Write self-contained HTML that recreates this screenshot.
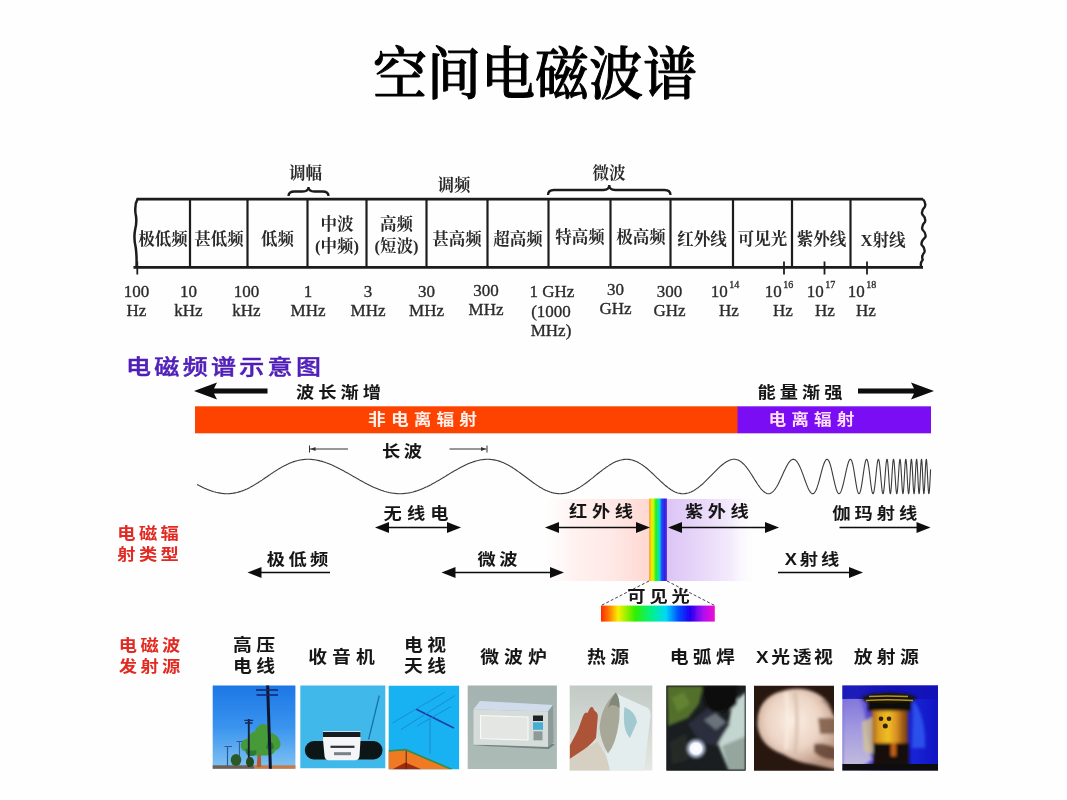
<!DOCTYPE html>
<html lang="zh-CN">
<head>
<meta charset="utf-8">
<title>空间电磁波谱</title>
<style>
html,body{margin:0;padding:0;background:#fefefe;}
body{width:1067px;height:800px;overflow:hidden;position:relative;font-family:"Liberation Sans","Noto Sans CJK SC",sans-serif;}
svg{position:absolute;left:0;top:0;display:block;}
.ser{font-family:"Liberation Serif","Noto Serif CJK SC",serif;}
.san{font-family:"Liberation Sans","Noto Sans CJK SC",sans-serif;}
.cell{font-size:16.5px;fill:#2a2a2a;text-anchor:middle;font-weight:700;}
.frq{font-size:17px;fill:#2c2c2c;text-anchor:middle;stroke:#2c2c2c;stroke-width:0.35px;}
.lab{font-size:17px;fill:#151515;text-anchor:middle;font-weight:700;letter-spacing:3.5px;}
.red{font-size:16.5px;fill:#e3321f;font-weight:700;letter-spacing:3.5px;}
.src{font-size:17.5px;fill:#151515;text-anchor:middle;font-weight:700;letter-spacing:3.5px;}
</style>
</head>
<body>
<svg width="1067" height="800" viewBox="0 0 1067 800">
<rect width="1067" height="800" fill="#fefefe"/>
<defs><filter id="b0" x="-2%" y="-5%" width="104%" height="110%"><feGaussianBlur stdDeviation="0.45"/></filter></defs>
<g id="title" class="ser" filter="url(#b0)">
<text transform="translate(535,0) scale(1,1.05)" x="0" y="89.5" font-size="54" font-weight="500" stroke="#000" stroke-width="1" stroke-linejoin="round" text-anchor="middle" fill="#000">空间电磁波谱</text>
</g>
<g id="table" class="ser" filter="url(#b0)">
<path d="M136.5 199.2 H923 M133.5 267.4 H923" stroke="#1c1c1c" stroke-width="2.8" fill="none"/>
<path d="M137.5 199.2 q-3 5 -2 14 q1.8 8 -0.3 16 q-1.8 9 0.5 18 q1.2 8 0.8 20.19999999999999" stroke="#1c1c1c" stroke-width="2.5" fill="none"/>
<path d="M923 199.2 Q926.4 203.0 924.8 206.8 Q921.0 210.6 922.3 214.4 Q926.1 218.1 925.0 221.9 Q921.2 225.7 922.4 229.5 Q926.4 233.3 925.4 237.1 Q921.0 240.9 921.5 244.7 Q925.5 248.5 924.4 252.2 Q921.1 256.0 922.7 259.8 Q919.6 263.6 921.5 267.4" stroke="#1c1c1c" stroke-width="2.4" fill="none"/>
<line x1="190" y1="199.2" x2="190" y2="267.4" stroke="#1c1c1c" stroke-width="2.2"/>
<line x1="247.5" y1="199.2" x2="247.5" y2="267.4" stroke="#1c1c1c" stroke-width="2.2"/>
<line x1="307.5" y1="199.2" x2="307.5" y2="267.4" stroke="#1c1c1c" stroke-width="2.2"/>
<line x1="366.5" y1="199.2" x2="366.5" y2="267.4" stroke="#1c1c1c" stroke-width="2.2"/>
<line x1="426.5" y1="199.2" x2="426.5" y2="267.4" stroke="#1c1c1c" stroke-width="2.2"/>
<line x1="487.5" y1="199.2" x2="487.5" y2="267.4" stroke="#1c1c1c" stroke-width="2.2"/>
<line x1="548.5" y1="199.2" x2="548.5" y2="267.4" stroke="#1c1c1c" stroke-width="2.2"/>
<line x1="610.5" y1="199.2" x2="610.5" y2="267.4" stroke="#1c1c1c" stroke-width="2.2"/>
<line x1="670.5" y1="199.2" x2="670.5" y2="267.4" stroke="#1c1c1c" stroke-width="2.2"/>
<line x1="733" y1="199.2" x2="733" y2="267.4" stroke="#1c1c1c" stroke-width="2.2"/>
<line x1="792" y1="199.2" x2="792" y2="267.4" stroke="#1c1c1c" stroke-width="2.2"/>
<line x1="850.5" y1="199.2" x2="850.5" y2="267.4" stroke="#1c1c1c" stroke-width="2.2"/>
<text class="cell" x="163" y="244.5">极低频</text>
<text class="cell" x="219" y="244.5">甚低频</text>
<text class="cell" x="277.5" y="244.5">低频</text>
<text class="cell" x="457" y="244.5">甚高频</text>
<text class="cell" x="518" y="244.5">超高频</text>
<text class="cell" x="580" y="243.0">特高频</text>
<text class="cell" x="641" y="243.0">极高频</text>
<text class="cell" x="702" y="244.5">红外线</text>
<text class="cell" x="762.5" y="244.5">可见光</text>
<text class="cell" x="821.5" y="244.5">紫外线</text>
<text class="cell" x="883" y="246.0">X射线</text>
<text class="cell" x="337" y="229.5">中波</text>
<text class="cell" x="337" y="251.5">(中频)</text>
<text class="cell" x="396.5" y="229.5">高频</text>
<text class="cell" x="396.5" y="251.5">(短波)</text>
<text class="cell" x="305.5" y="178.5" font-size="16">调幅</text>
<text class="cell" x="454" y="191" font-size="16">调频</text>
<text class="cell" x="609" y="178.5" font-size="16">微波</text>
<path d="M288.5 196 q0 -4.5 6 -4.5 H302.5 q6 0 6 -4.5 q0 4.5 6 4.5 H322.5 q6 0 6 4.5" stroke="#1c1c1c" stroke-width="2.3" fill="none"/>
<path d="M548 195 q0 -5.0 6 -5.0 H603.25 q6 0 6 -5.0 q0 5.0 6 5.0 H664.5 q6 0 6 5.0" stroke="#1c1c1c" stroke-width="2.3" fill="none"/>
<line x1="137.3" y1="261.5" x2="137.3" y2="274.5" stroke="#1c1c1c" stroke-width="1.8"/>
<line x1="784" y1="261.5" x2="784" y2="274.5" stroke="#1c1c1c" stroke-width="1.8"/>
<line x1="824.5" y1="261.5" x2="824.5" y2="274.5" stroke="#1c1c1c" stroke-width="1.8"/>
<line x1="867" y1="261.5" x2="867" y2="274.5" stroke="#1c1c1c" stroke-width="1.8"/>
<text class="frq" x="136.5" y="297">100</text><text class="frq" x="136.5" y="316">Hz</text>
<text class="frq" x="188.5" y="297">10</text><text class="frq" x="188.5" y="316">kHz</text>
<text class="frq" x="246.5" y="297">100</text><text class="frq" x="246.5" y="316">kHz</text>
<text class="frq" x="308" y="297">1</text><text class="frq" x="308" y="316">MHz</text>
<text class="frq" x="368" y="297">3</text><text class="frq" x="368" y="316">MHz</text>
<text class="frq" x="426.5" y="297">30</text><text class="frq" x="426.5" y="316">MHz</text>
<text class="frq" x="486" y="295.5">300</text><text class="frq" x="486" y="314.5">MHz</text>
<text class="frq" x="615.5" y="295">30</text><text class="frq" x="615.5" y="313.5">GHz</text>
<text class="frq" x="669.5" y="297">300</text><text class="frq" x="669.5" y="316">GHz</text>
<text class="frq" x="552" y="297">1 GHz</text><text class="frq" x="551" y="316.5">(1000</text><text class="frq" x="551" y="335.5">MHz)</text>
<text class="frq" x="725" y="297">10<tspan dx="1.5" dy="-9.5" font-size="10">14</tspan></text><text class="frq" x="729" y="316">Hz</text>
<text class="frq" x="779" y="297">10<tspan dx="1.5" dy="-9.5" font-size="10">16</tspan></text><text class="frq" x="783" y="316">Hz</text>
<text class="frq" x="821" y="297">10<tspan dx="1.5" dy="-9.5" font-size="10">17</tspan></text><text class="frq" x="825" y="316">Hz</text>
<text class="frq" x="862" y="297">10<tspan dx="1.5" dy="-9.5" font-size="10">18</tspan></text><text class="frq" x="866" y="316">Hz</text>
</g>
<defs>
<linearGradient id="gIR" x1="0" x2="1" y1="0" y2="0"><stop offset="0" stop-color="#fff5f3" stop-opacity="0"/><stop offset="0.25" stop-color="#fff2f0"/><stop offset="0.65" stop-color="#ffe8e5"/><stop offset="1" stop-color="#ffd7d1"/></linearGradient>
<linearGradient id="gUV" x1="0" x2="1" y1="0" y2="0"><stop offset="0" stop-color="#dcc4f6"/><stop offset="0.4" stop-color="#e8d8f9"/><stop offset="0.75" stop-color="#f4ecfc"/><stop offset="1" stop-color="#fcfafe" stop-opacity="0"/></linearGradient>
<linearGradient id="gVis" x1="0" x2="1" y1="0" y2="0"><stop offset="0" stop-color="#ffc478"/><stop offset="0.05" stop-color="#f0a020"/><stop offset="0.12" stop-color="#f6e600"/><stop offset="0.26" stop-color="#c0f810"/><stop offset="0.38" stop-color="#20f020"/><stop offset="0.52" stop-color="#10e890"/><stop offset="0.6" stop-color="#10c8e8"/><stop offset="0.7" stop-color="#2050f8"/><stop offset="0.86" stop-color="#2a20e6"/><stop offset="1" stop-color="#7434e0"/></linearGradient>
<linearGradient id="gBow" x1="0" x2="1" y1="0" y2="0"><stop offset="0" stop-color="#ff2a00"/><stop offset="0.07" stop-color="#ff7a00"/><stop offset="0.15" stop-color="#f8f000"/><stop offset="0.3" stop-color="#30f000"/><stop offset="0.45" stop-color="#00f090"/><stop offset="0.57" stop-color="#00d8f8"/><stop offset="0.68" stop-color="#0050ff"/><stop offset="0.78" stop-color="#2000f0"/><stop offset="0.9" stop-color="#b010f0"/><stop offset="1" stop-color="#f010d0"/></linearGradient>
</defs>
<g id="mid" class="san" filter="url(#b0)">
<text transform="translate(126,374) scale(1.19,1)" x="0" y="0" font-size="21" font-weight="500" letter-spacing="2.8" fill="#5020b8" text-anchor="start" stroke="#5020b8" stroke-width="0.45">电磁频谱示意图</text>
<path d="M194 391 L217 382.5 L214 388.5 H267.5 V393.5 H214 L217 399.5 Z" fill="#0a0a0a"/>
<path d="M934 391 L911 382.5 L914 388.5 H858 V393.5 H914 L911 399.5 Z" fill="#0a0a0a"/>
<text transform="translate(338.5,397.5) scale(1.14,1)" x="1.75" y="0" font-size="16" font-weight="700" letter-spacing="3.5" fill="#151515" text-anchor="middle">波长渐增</text>
<text transform="translate(800,397.5) scale(1.14,1)" x="1.75" y="0" font-size="16" font-weight="700" letter-spacing="3.5" fill="#151515" text-anchor="middle">能量渐强</text>
<rect x="195" y="406.3" width="543" height="27" fill="#fe4304"/>
<rect x="737.5" y="406.3" width="193.5" height="27" fill="#7a0cf4"/>
<text transform="translate(422.5,425.3) scale(1.14,1)" x="2.25" y="0" font-size="15.5" font-weight="700" letter-spacing="4.5" fill="#fff2ee" text-anchor="middle">非电离辐射</text>
<text transform="translate(811.5,425.3) scale(1.14,1)" x="2.25" y="0" font-size="15.5" font-weight="700" letter-spacing="4.5" fill="#ffe0fb" text-anchor="middle">电离辐射</text>
<text transform="translate(402,457) scale(1.14,1)" x="1.5" y="0" font-size="16" font-weight="700" letter-spacing="3" fill="#151515" text-anchor="middle">长波</text>
<path d="M310 449 H348 M449.5 449 H486.5 M309.5 445.5 V452.5 M487 445.5 V452.5" stroke="#333" stroke-width="1" fill="none"/>
<path d="M310.5 449 l5 -2 v4 z M486 449 l-5 -2 v4 z" fill="#333"/>
<path d="M197.0 484.4 L198.0 484.9 L199.0 485.5 L200.0 486.0 L201.0 486.5 L202.0 487.0 L203.0 487.5 L204.0 488.0 L205.0 488.4 L206.0 488.8 L207.0 489.3 L208.0 489.7 L209.0 490.1 L210.0 490.4 L211.0 490.8 L212.0 491.1 L213.0 491.5 L214.0 491.8 L215.0 492.0 L216.0 492.3 L217.0 492.5 L218.0 492.8 L219.0 492.9 L220.0 493.1 L221.0 493.3 L222.0 493.4 L223.0 493.5 L224.0 493.6 L225.0 493.7 L226.0 493.7 L227.0 493.7 L228.0 493.7 L229.0 493.7 L230.0 493.6 L231.0 493.5 L232.0 493.4 L233.0 493.3 L234.0 493.1 L235.0 492.9 L236.0 492.7 L237.0 492.5 L238.0 492.2 L239.0 491.9 L240.0 491.6 L241.0 491.3 L242.0 490.9 L243.0 490.6 L244.0 490.2 L245.0 489.8 L246.0 489.3 L247.0 488.9 L248.0 488.4 L249.0 487.9 L250.0 487.4 L251.0 486.8 L252.0 486.3 L253.0 485.7 L254.0 485.1 L255.0 484.5 L256.0 483.9 L257.0 483.3 L258.0 482.7 L259.0 482.0 L260.0 481.4 L261.0 480.7 L262.0 480.1 L263.0 479.4 L264.0 478.7 L265.0 478.0 L266.0 477.3 L267.0 476.7 L268.0 476.0 L269.0 475.3 L270.0 474.6 L271.0 473.9 L272.0 473.3 L273.0 472.6 L274.0 471.9 L275.0 471.3 L276.0 470.6 L277.0 470.0 L278.0 469.4 L279.0 468.8 L280.0 468.2 L281.0 467.6 L282.0 467.0 L283.0 466.5 L284.0 465.9 L285.0 465.4 L286.0 464.9 L287.0 464.4 L288.0 464.0 L289.0 463.5 L290.0 463.1 L291.0 462.7 L292.0 462.3 L293.0 461.9 L294.0 461.6 L295.0 461.3 L296.0 461.0 L297.0 460.7 L298.0 460.5 L299.0 460.2 L300.0 460.0 L301.0 459.9 L302.0 459.7 L303.0 459.6 L304.0 459.5 L305.0 459.4 L306.0 459.3 L307.0 459.3 L308.0 459.3 L309.0 459.3 L310.0 459.3 L311.0 459.4 L312.0 459.5 L313.0 459.6 L314.0 459.7 L315.0 459.8 L316.0 460.0 L317.0 460.2 L318.0 460.4 L319.0 460.6 L320.0 460.9 L321.0 461.1 L322.0 461.4 L323.0 461.7 L324.0 462.0 L325.0 462.3 L326.0 462.7 L327.0 463.0 L328.0 463.4 L329.0 463.8 L330.0 464.2 L331.0 464.6 L332.0 465.1 L333.0 465.5 L334.0 466.0 L335.0 466.5 L336.0 466.9 L337.0 467.4 L338.0 467.9 L339.0 468.4 L340.0 469.0 L341.0 469.5 L342.0 470.0 L343.0 470.6 L344.0 471.1 L345.0 471.7 L346.0 472.2 L347.0 472.8 L348.0 473.3 L349.0 473.9 L350.0 474.5 L351.0 475.0 L352.0 475.6 L353.0 476.2 L354.0 476.8 L355.0 477.3 L356.0 477.9 L357.0 478.5 L358.0 479.1 L359.0 479.6 L360.0 480.2 L361.0 480.7 L362.0 481.3 L363.0 481.8 L364.0 482.4 L365.0 482.9 L366.0 483.4 L367.0 484.0 L368.0 484.5 L369.0 485.0 L370.0 485.5 L371.0 486.0 L372.0 486.4 L373.0 486.9 L374.0 487.4 L375.0 487.8 L376.0 488.2 L377.0 488.6 L378.0 489.0 L379.0 489.4 L380.0 489.8 L381.0 490.2 L382.0 490.5 L383.0 490.8 L384.0 491.2 L385.0 491.5 L386.0 491.7 L387.0 492.0 L388.0 492.2 L389.0 492.5 L390.0 492.7 L391.0 492.9 L392.0 493.0 L393.0 493.2 L394.0 493.3 L395.0 493.4 L396.0 493.5 L397.0 493.6 L398.0 493.7 L399.0 493.7 L400.0 493.7 L401.0 493.7 L402.0 493.7 L403.0 493.6 L404.0 493.5 L405.0 493.4 L406.0 493.3 L407.0 493.2 L408.0 493.0 L409.0 492.9 L410.0 492.7 L411.0 492.5 L412.0 492.2 L413.0 492.0 L414.0 491.7 L415.0 491.4 L416.0 491.1 L417.0 490.8 L418.0 490.4 L419.0 490.1 L420.0 489.7 L421.0 489.3 L422.0 488.9 L423.0 488.5 L424.0 488.1 L425.0 487.6 L426.0 487.1 L427.0 486.7 L428.0 486.2 L429.0 485.7 L430.0 485.2 L431.0 484.7 L432.0 484.1 L433.0 483.6 L434.0 483.0 L435.0 482.5 L436.0 481.9 L437.0 481.3 L438.0 480.8 L439.0 480.2 L440.0 479.6 L441.0 479.0 L442.0 478.4 L443.0 477.8 L444.0 477.2 L445.0 476.6 L446.0 476.0 L447.0 475.3 L448.0 474.7 L449.0 474.1 L450.0 473.5 L451.0 472.9 L452.0 472.3 L453.0 471.7 L454.0 471.1 L455.0 470.6 L456.0 470.0 L457.0 469.4 L458.0 468.9 L459.0 468.3 L460.0 467.8 L461.0 467.2 L462.0 466.7 L463.0 466.2 L464.0 465.7 L465.0 465.2 L466.0 464.7 L467.0 464.3 L468.0 463.8 L469.0 463.4 L470.0 463.0 L471.0 462.6 L472.0 462.3 L473.0 461.9 L474.0 461.6 L475.0 461.3 L476.0 461.0 L477.0 460.7 L478.0 460.5 L479.0 460.2 L480.0 460.0 L481.0 459.8 L482.0 459.7 L483.0 459.6 L484.0 459.5 L485.0 459.4 L486.0 459.3 L487.0 459.3 L488.0 459.3 L489.0 459.3 L490.0 459.4 L491.0 459.5 L492.0 459.6 L493.0 459.7 L494.0 459.9 L495.0 460.1 L496.0 460.3 L497.0 460.5 L498.0 460.8 L499.0 461.1 L500.0 461.4 L501.0 461.8 L502.0 462.2 L503.0 462.6 L504.0 463.0 L505.0 463.5 L506.0 464.0 L507.0 464.5 L508.0 465.0 L509.0 465.6 L510.0 466.1 L511.0 466.7 L512.0 467.3 L513.0 468.0 L514.0 468.6 L515.0 469.3 L516.0 470.0 L517.0 470.7 L518.0 471.4 L519.0 472.1 L520.0 472.8 L521.0 473.5 L522.0 474.3 L523.0 475.0 L524.0 475.8 L525.0 476.5 L526.0 477.3 L527.0 478.0 L528.0 478.8 L529.0 479.5 L530.0 480.3 L531.0 481.0 L532.0 481.8 L533.0 482.5 L534.0 483.2 L535.0 483.9 L536.0 484.6 L537.0 485.3 L538.0 485.9 L539.0 486.5 L540.0 487.2 L541.0 487.8 L542.0 488.3 L543.0 488.9 L544.0 489.4 L545.0 489.9 L546.0 490.4 L547.0 490.8 L548.0 491.2 L549.0 491.6 L550.0 492.0 L551.0 492.3 L552.0 492.6 L553.0 492.8 L554.0 493.1 L555.0 493.3 L556.0 493.4 L557.0 493.5 L558.0 493.6 L559.0 493.7 L560.0 493.7 L561.0 493.7 L562.0 493.6 L563.0 493.5 L564.0 493.4 L565.0 493.3 L566.0 493.1 L567.0 492.8 L568.0 492.6 L569.0 492.3 L570.0 492.0 L571.0 491.6 L572.0 491.2 L573.0 490.8 L574.0 490.4 L575.0 489.9 L576.0 489.4 L577.0 488.8 L578.0 488.3 L579.0 487.7 L580.0 487.1 L581.0 486.4 L582.0 485.8 L583.0 485.1 L584.0 484.4 L585.0 483.7 L586.0 483.0 L587.0 482.2 L588.0 481.5 L589.0 480.7 L590.0 479.9 L591.0 479.1 L592.0 478.4 L593.0 477.6 L594.0 476.7 L595.0 475.9 L596.0 475.1 L597.0 474.3 L598.0 473.5 L599.0 472.7 L600.0 471.9 L601.0 471.2 L602.0 470.4 L603.0 469.6 L604.0 468.9 L605.0 468.2 L606.0 467.4 L607.0 466.7 L608.0 466.1 L609.0 465.4 L610.0 464.8 L611.0 464.2 L612.0 463.6 L613.0 463.1 L614.0 462.6 L615.0 462.1 L616.0 461.6 L617.0 461.2 L618.0 460.9 L619.0 460.5 L620.0 460.2 L621.0 460.0 L622.0 459.7 L623.0 459.6 L624.0 459.4 L625.0 459.4 L626.0 459.3 L627.0 459.3 L628.0 459.4 L629.0 459.4 L630.0 459.6 L631.0 459.8 L632.0 460.0 L633.0 460.3 L634.0 460.6 L635.0 461.0 L636.0 461.4 L637.0 461.8 L638.0 462.3 L639.0 462.9 L640.0 463.4 L641.0 464.1 L642.0 464.7 L643.0 465.4 L644.0 466.2 L645.0 466.9 L646.0 467.7 L647.0 468.5 L648.0 469.4 L649.0 470.3 L650.0 471.2 L651.0 472.1 L652.0 473.0 L653.0 473.9 L654.0 474.9 L655.0 475.9 L656.0 476.8 L657.0 477.8 L658.0 478.7 L659.0 479.7 L660.0 480.7 L661.0 481.6 L662.0 482.5 L663.0 483.4 L664.0 484.3 L665.0 485.2 L666.0 486.0 L667.0 486.8 L668.0 487.6 L669.0 488.3 L670.0 489.0 L671.0 489.7 L672.0 490.3 L673.0 490.9 L674.0 491.4 L675.0 491.9 L676.0 492.3 L677.0 492.7 L678.0 493.0 L679.0 493.2 L680.0 493.4 L681.0 493.6 L682.0 493.7 L683.0 493.7 L684.0 493.7 L685.0 493.6 L686.0 493.4 L687.0 493.2 L688.0 493.0 L689.0 492.7 L690.0 492.3 L691.0 491.9 L692.0 491.4 L693.0 490.9 L694.0 490.4 L695.0 489.8 L696.0 489.1 L697.0 488.4 L698.0 487.7 L699.0 486.9 L700.0 486.1 L701.0 485.3 L702.0 484.5 L703.0 483.6 L704.0 482.6 L705.0 481.7 L706.0 480.7 L707.0 479.7 L708.0 478.7 L709.0 477.7 L710.0 476.7 L711.0 475.7 L712.0 474.7 L713.0 473.6 L714.0 472.6 L715.0 471.6 L716.0 470.6 L717.0 469.6 L718.0 468.6 L719.0 467.6 L720.0 466.7 L721.0 465.8 L722.0 465.0 L723.0 464.2 L724.0 463.4 L725.0 462.7 L726.0 462.0 L727.0 461.4 L728.0 460.9 L729.0 460.4 L730.0 460.0 L731.0 459.7 L732.0 459.5 L733.0 459.3 L734.0 459.3 L735.0 459.3 L736.0 459.5 L737.0 459.7 L738.0 460.1 L739.0 460.6 L740.0 461.1 L741.0 461.8 L742.0 462.6 L743.0 463.5 L744.0 464.4 L745.0 465.5 L746.0 466.7 L747.0 468.0 L748.0 469.3 L749.0 470.7 L750.0 472.2 L751.0 473.7 L752.0 475.3 L753.0 476.9 L754.0 478.5 L755.0 480.1 L756.0 481.6 L757.0 483.2 L758.0 484.7 L759.0 486.1 L760.0 487.5 L761.0 488.8 L762.0 489.9 L763.0 490.9 L764.0 491.8 L765.0 492.5 L766.0 493.1 L767.0 493.5 L768.0 493.7 L769.0 493.7 L770.0 493.5 L771.0 493.1 L772.0 492.4 L773.0 491.6 L774.0 490.5 L775.0 489.3 L776.0 487.8 L777.0 486.2 L778.0 484.4 L779.0 482.4 L780.0 480.3 L781.0 478.2 L782.0 476.0 L783.0 473.8 L784.0 471.6 L785.0 469.4 L786.0 467.4 L787.0 465.5 L788.0 463.8 L789.0 462.3 L790.0 461.1 L791.0 460.2 L792.0 459.6 L793.0 459.3 L794.0 459.4 L795.0 459.8 L796.0 460.6 L797.0 461.7 L798.0 463.2 L799.0 465.0 L800.0 467.1 L801.0 469.4 L802.0 471.9 L803.0 474.6 L804.0 477.4 L805.0 480.2 L806.0 482.9 L807.0 485.5 L808.0 487.9 L809.0 490.0 L810.0 491.6 L811.0 492.9 L812.0 493.6 L813.0 493.7 L814.0 493.2 L815.0 492.0 L816.0 490.2 L817.0 487.7 L818.0 484.7 L819.0 481.3 L820.0 477.5 L821.0 473.7 L822.0 469.9 L823.0 466.4 L824.0 463.5 L825.0 461.2 L826.0 459.8 L827.0 459.3 L828.0 459.8 L829.0 461.3 L830.0 463.8 L831.0 467.2 L832.0 471.3 L833.0 475.8 L834.0 480.3 L835.0 484.6 L836.0 488.4 L837.0 491.3 L838.0 493.1 L839.0 493.7 L840.0 493.1 L840.2 492.8 L840.4 492.5 L840.6 492.2 L840.8 491.8 L841.0 491.3 L841.2 490.9 L841.4 490.4 L841.6 489.8 L841.8 489.2 L842.0 488.6 L842.2 487.9 L842.4 487.2 L842.6 486.5 L842.8 485.8 L843.0 485.0 L843.2 484.2 L843.4 483.4 L843.6 482.6 L843.8 481.7 L844.0 480.8 L844.2 479.9 L844.4 479.0 L844.6 478.1 L844.8 477.2 L845.0 476.3 L845.2 475.4 L845.4 474.4 L845.6 473.5 L845.8 472.6 L846.0 471.7 L846.2 470.8 L846.4 469.9 L846.6 469.0 L846.8 468.2 L847.0 467.4 L847.2 466.5 L847.4 465.8 L847.6 465.0 L847.8 464.3 L848.0 463.6 L848.2 463.0 L848.4 462.4 L848.6 461.8 L848.8 461.3 L849.0 460.9 L849.2 460.5 L849.4 460.1 L849.6 459.8 L849.8 459.6 L850.0 459.4 L850.2 459.3 L850.4 459.3 L850.6 459.3 L850.8 459.4 L851.0 459.6 L851.2 459.9 L851.4 460.2 L851.6 460.6 L851.8 461.1 L852.0 461.6 L852.2 462.3 L852.4 463.0 L852.6 463.7 L852.8 464.6 L853.0 465.5 L853.2 466.4 L853.4 467.5 L853.6 468.5 L853.8 469.7 L854.0 470.8 L854.2 472.0 L854.4 473.3 L854.6 474.5 L854.8 475.8 L855.0 477.1 L855.2 478.4 L855.4 479.7 L855.6 480.9 L855.8 482.2 L856.0 483.4 L856.2 484.6 L856.4 485.7 L856.6 486.8 L856.8 487.8 L857.0 488.8 L857.2 489.7 L857.4 490.5 L857.6 491.2 L857.8 491.9 L858.0 492.4 L858.2 492.9 L858.4 493.2 L858.6 493.5 L858.8 493.6 L859.0 493.7 L859.2 493.6 L859.4 493.5 L859.6 493.2 L859.8 492.9 L860.0 492.4 L860.2 491.8 L860.4 491.2 L860.6 490.4 L860.8 489.6 L861.0 488.7 L861.2 487.7 L861.4 486.6 L861.6 485.4 L861.8 484.2 L862.0 482.9 L862.2 481.6 L862.4 480.3 L862.6 478.9 L862.8 477.5 L863.0 476.1 L863.2 474.7 L863.4 473.3 L863.6 471.9 L863.8 470.5 L864.0 469.2 L864.2 467.9 L864.4 466.7 L864.6 465.5 L864.8 464.4 L865.0 463.4 L865.2 462.5 L865.4 461.7 L865.6 461.0 L865.8 460.4 L866.0 459.9 L866.2 459.6 L866.4 459.4 L866.6 459.3 L866.8 459.4 L867.0 459.6 L867.2 459.9 L867.4 460.4 L867.6 461.1 L867.8 461.8 L868.0 462.7 L868.2 463.7 L868.4 464.9 L868.6 466.1 L868.8 467.5 L869.0 468.9 L869.2 470.5 L869.4 472.0 L869.6 473.7 L869.8 475.3 L870.0 477.0 L870.2 478.7 L870.4 480.4 L870.6 482.1 L870.8 483.7 L871.0 485.2 L871.2 486.7 L871.4 488.0 L871.6 489.3 L871.8 490.4 L872.0 491.4 L872.2 492.2 L872.4 492.8 L872.6 493.3 L872.8 493.6 L873.0 493.7 L873.2 493.6 L873.4 493.3 L873.6 492.8 L873.8 492.1 L874.0 491.2 L874.2 490.2 L874.4 489.0 L874.6 487.6 L874.8 486.0 L875.0 484.3 L875.2 482.6 L875.4 480.7 L875.6 478.7 L875.8 476.8 L876.0 474.8 L876.2 472.8 L876.4 470.8 L876.6 468.9 L876.8 467.1 L877.0 465.5 L877.2 463.9 L877.4 462.6 L877.6 461.4 L877.8 460.5 L878.0 459.9 L878.2 459.4 L878.4 459.3 L878.6 459.4 L878.8 459.9 L879.0 460.6 L879.2 461.6 L879.4 462.8 L879.6 464.3 L879.8 466.0 L880.0 467.9 L880.2 470.0 L880.4 472.2 L880.6 474.5 L880.8 476.9 L881.0 479.2 L881.2 481.5 L881.4 483.8 L881.6 485.9 L881.8 487.8 L882.0 489.5 L882.2 491.0 L882.4 492.2 L882.6 493.0 L882.8 493.5 L883.0 493.7 L883.2 493.5 L883.4 492.9 L883.6 492.0 L883.8 490.7 L884.0 489.0 L884.2 487.1 L884.4 484.9 L884.6 482.5 L884.8 480.0 L885.0 477.3 L885.2 474.6 L885.4 472.0 L885.6 469.4 L885.8 467.0 L886.0 464.8 L886.2 462.9 L886.4 461.4 L886.6 460.2 L886.8 459.5 L887.0 459.3 L887.2 459.5 L887.4 460.3 L887.6 461.5 L887.8 463.3 L888.0 465.5 L888.2 468.0 L888.4 470.9 L888.6 474.1 L888.8 477.3 L889.0 480.6 L889.2 483.7 L889.4 486.6 L889.6 489.1 L889.8 491.1 L890.0 492.6 L890.2 493.5 L890.4 493.7 L890.6 493.2 L890.8 492.0 L891.0 490.2 L891.2 487.8 L891.4 485.0 L891.6 481.9 L891.8 478.5 L892.0 475.0 L892.2 471.6 L892.4 468.4 L892.6 465.6 L892.8 463.2 L893.0 461.3 L893.2 460.0 L893.4 459.4 L893.6 459.4 L893.8 460.0 L894.0 461.3 L894.2 463.0 L894.4 465.3 L894.6 468.0 L894.8 471.0 L895.0 474.2 L895.2 477.4 L895.4 480.7 L895.6 483.7 L895.8 486.5 L896.0 489.0 L896.2 491.0 L896.4 492.5 L896.6 493.4 L896.8 493.7 L897.0 493.4 L897.2 492.4 L897.4 490.9 L897.6 488.9 L897.8 486.4 L898.0 483.5 L898.2 480.3 L898.4 477.0 L898.6 473.6 L898.8 470.3 L899.0 467.3 L899.2 464.6 L899.4 462.4 L899.6 460.7 L899.8 459.7 L900.0 459.3 L900.2 459.7 L900.4 460.7 L900.6 462.5 L900.8 464.9 L901.0 467.8 L901.2 471.1 L901.4 474.6 L901.6 478.3 L901.8 481.9 L902.0 485.3 L902.2 488.2 L902.4 490.7 L902.6 492.4 L902.8 493.5 L903.0 493.7 L903.2 493.1 L903.4 491.7 L903.6 489.5 L903.8 486.8 L904.0 483.5 L904.2 479.9 L904.4 476.1 L904.6 472.3 L904.8 468.8 L905.0 465.6 L905.2 462.9 L905.4 460.9 L905.6 459.7 L905.8 459.3 L906.0 459.7 L906.2 460.9 L906.4 462.9 L906.6 465.6 L906.8 468.7 L907.0 472.3 L907.2 476.0 L907.4 479.8 L907.6 483.5 L907.8 486.7 L908.0 489.5 L908.2 491.7 L908.4 493.1 L908.6 493.7 L908.8 493.4 L909.0 492.3 L909.2 490.4 L909.4 487.8 L909.6 484.6 L909.8 481.0 L910.0 477.2 L910.2 473.3 L910.4 469.5 L910.6 466.1 L910.8 463.3 L911.0 461.1 L911.2 459.8 L911.4 459.3 L911.6 459.8 L911.8 461.1 L912.0 463.4 L912.2 466.3 L912.4 469.9 L912.6 473.8 L912.8 477.8 L913.0 481.8 L913.2 485.6 L913.4 488.8 L913.6 491.3 L913.8 493.0 L914.0 493.7 L914.2 493.4 L914.4 492.1 L914.6 489.9 L914.8 486.9 L915.0 483.3 L915.2 479.2 L915.4 475.0 L915.6 470.9 L915.8 467.1 L916.0 463.9 L916.2 461.4 L916.4 459.8 L916.6 459.3 L916.8 459.8 L917.0 461.4 L917.2 463.9 L917.4 467.3 L917.6 471.2 L917.8 475.5 L918.0 479.8 L918.2 484.0 L918.4 487.6 L918.6 490.6 L918.8 492.6 L919.0 493.6 L919.2 493.5 L919.4 492.2 L919.6 489.9 L919.8 486.7 L920.0 482.8 L920.2 478.5 L920.4 474.0 L920.6 469.7 L920.8 465.9 L921.0 462.8 L921.2 460.6 L921.4 459.4 L921.6 459.4 L921.8 460.6 L922.0 462.8 L922.2 466.0 L922.4 469.9 L922.6 474.3 L922.8 478.8 L923.0 483.2 L923.2 487.2 L923.4 490.3 L923.6 492.5 L923.8 493.6 L924.0 493.5 L924.2 492.2 L924.4 489.8 L924.6 486.5 L924.8 482.5 L925.0 478.1 L925.2 473.6 L925.4 469.4 L925.6 465.6 L925.8 462.6 L926.0 460.5 L926.2 459.4 L926.4 459.4 L926.6 460.5 L926.8 462.5 L927.0 465.4 L927.2 468.9 L927.4 472.9 L927.6 477.1 L927.8 481.2 L928.0 485.0 L928.2 488.3 L928.4 490.9 L928.6 492.7 L928.8 493.6 L929.0 493.5 L929.2 492.5 L929.4 490.6 L929.6 487.9 L929.8 484.6 L930.0 480.9 L930.2 477.0 L930.4 473.1 L930.6 469.4" stroke="#3a3a3a" stroke-width="1.1" fill="none" stroke-linejoin="round"/>
<rect x="547" y="499" width="103" height="82" fill="url(#gIR)"/>
<rect x="666.5" y="499" width="88" height="82" fill="url(#gUV)"/>
<rect x="649" y="498.5" width="18" height="82.5" fill="url(#gVis)"/>
<line x1="387" y1="527.5" x2="449" y2="527.5" stroke="#111" stroke-width="1.7"/><path d="M375 527.5 L389 522.0 L389 533.0 Z" fill="#111"/><path d="M461 527.5 L447 522.0 L447 533.0 Z" fill="#111"/>
<line x1="557" y1="527.5" x2="638" y2="527.5" stroke="#111" stroke-width="1.7"/><path d="M545 527.5 L559 522.0 L559 533.0 Z" fill="#111"/><path d="M650 527.5 L636 522.0 L636 533.0 Z" fill="#111"/>
<line x1="680" y1="527.5" x2="767" y2="527.5" stroke="#111" stroke-width="1.7"/><path d="M668 527.5 L682 522.0 L682 533.0 Z" fill="#111"/><path d="M779 527.5 L765 522.0 L765 533.0 Z" fill="#111"/>
<line x1="839.5" y1="527.5" x2="918.5" y2="527.5" stroke="#111" stroke-width="1.7"/><path d="M930.5 527.5 L916.5 522.0 L916.5 533.0 Z" fill="#111"/>
<line x1="259.5" y1="572.5" x2="330" y2="572.5" stroke="#111" stroke-width="1.7"/><path d="M247.5 572.5 L261.5 567.0 L261.5 578.0 Z" fill="#111"/>
<line x1="453.5" y1="572.5" x2="552" y2="572.5" stroke="#111" stroke-width="1.7"/><path d="M441.5 572.5 L455.5 567.0 L455.5 578.0 Z" fill="#111"/><path d="M564 572.5 L550 567.0 L550 578.0 Z" fill="#111"/>
<line x1="778" y1="572.5" x2="851" y2="572.5" stroke="#111" stroke-width="1.7"/><path d="M863 572.5 L849 567.0 L849 578.0 Z" fill="#111"/>
<text transform="translate(416,519) scale(1.14,1)" x="2.25" y="0" font-size="16" font-weight="700" letter-spacing="4.5" fill="#151515" text-anchor="middle">无线电</text>
<text transform="translate(601,517) scale(1.14,1)" x="2.0" y="0" font-size="16" font-weight="700" letter-spacing="4" fill="#151515" text-anchor="middle">红外线</text>
<text transform="translate(716.8,517) scale(1.14,1)" x="2.0" y="0" font-size="16" font-weight="700" letter-spacing="4" fill="#151515" text-anchor="middle">紫外线</text>
<text transform="translate(874.7,519.3) scale(1.14,1)" x="1.75" y="0" font-size="16" font-weight="700" letter-spacing="3.5" fill="#151515" text-anchor="middle">伽玛射线</text>
<text transform="translate(297.5,565) scale(1.14,1)" x="1.5" y="0" font-size="16" font-weight="700" letter-spacing="3" fill="#151515" text-anchor="middle">极低频</text>
<text transform="translate(497.5,565) scale(1.14,1)" x="1.5" y="0" font-size="16" font-weight="700" letter-spacing="3" fill="#151515" text-anchor="middle">微波</text>
<text transform="translate(812,565.3) scale(1.14,1)" x="1.25" y="0" font-size="16" font-weight="700" letter-spacing="2.5" fill="#151515" text-anchor="middle">X射线</text>
<text transform="translate(148,539) scale(1.14,1)" x="1.5" y="0" font-size="16" font-weight="700" letter-spacing="3" fill="#e22a20" text-anchor="middle">电磁辐</text>
<text transform="translate(148,560) scale(1.14,1)" x="1.5" y="0" font-size="16" font-weight="700" letter-spacing="3" fill="#e22a20" text-anchor="middle">射类型</text>
<text transform="translate(149.5,650.5) scale(1.14,1)" x="1.5" y="0" font-size="16" font-weight="700" letter-spacing="3" fill="#e22a20" text-anchor="middle">电磁波</text>
<text transform="translate(149.5,671.5) scale(1.14,1)" x="1.5" y="0" font-size="16" font-weight="700" letter-spacing="3" fill="#e22a20" text-anchor="middle">发射源</text>
<path d="M649 581 L601 605.6 M667 581 L714.8 605.6" stroke="#444" stroke-width="1" stroke-dasharray="3 2" fill="none"/>
<text transform="translate(658.5,601.5) scale(1.14,1)" x="1.75" y="0" font-size="16" font-weight="700" letter-spacing="3.5" fill="#151515" text-anchor="middle">可见光</text>
<rect x="601" y="605.6" width="113.8" height="16" fill="url(#gBow)"/>
</g>
<defs>
<linearGradient id="sky1" x1="0" x2="0" y1="0" y2="1"><stop offset="0" stop-color="#1c76e6"/><stop offset="0.5" stop-color="#3a94ee"/><stop offset="1" stop-color="#84c4f2"/></linearGradient>
<linearGradient id="mwbg" x1="0" x2="0" y1="0" y2="1"><stop offset="0" stop-color="#a4b3af"/><stop offset="1" stop-color="#adbcb7"/></linearGradient>
<linearGradient id="hbg" x1="0" x2="0" y1="0" y2="1"><stop offset="0" stop-color="#c2cac6"/><stop offset="0.5" stop-color="#d3d8d3"/><stop offset="1" stop-color="#e6e8e2"/></linearGradient>
<radialGradient id="spark" cx="0.5" cy="0.5" r="0.5"><stop offset="0" stop-color="#ffffff"/><stop offset="0.45" stop-color="#f4f6ff"/><stop offset="0.7" stop-color="#9aa4c0" stop-opacity="0.7"/><stop offset="1" stop-color="#30343c" stop-opacity="0"/></radialGradient>
<radialGradient id="skull" cx="0.45" cy="0.4" r="0.6"><stop offset="0" stop-color="#faeee4"/><stop offset="0.55" stop-color="#ecd4c4"/><stop offset="1" stop-color="#b89480"/></radialGradient>
<linearGradient id="rbg" x1="0" x2="1" y1="0" y2="0"><stop offset="0" stop-color="#7a6cdc"/><stop offset="0.15" stop-color="#8a7cdc"/><stop offset="0.3" stop-color="#4a3ccc"/><stop offset="0.5" stop-color="#1a18b8"/><stop offset="0.75" stop-color="#1822d6"/><stop offset="1" stop-color="#1014c0"/></linearGradient>
<linearGradient id="barrel" x1="0" x2="1" y1="0" y2="0"><stop offset="0" stop-color="#a86418"/><stop offset="0.18" stop-color="#dc9c20"/><stop offset="0.45" stop-color="#f0c024"/><stop offset="0.68" stop-color="#d89020"/><stop offset="0.85" stop-color="#a05c18"/><stop offset="1" stop-color="#6a3810"/></linearGradient>
<linearGradient id="smoke" x1="0" x2="0" y1="0" y2="1"><stop offset="0" stop-color="#8278dc"/><stop offset="0.5" stop-color="#a8a0e0"/><stop offset="1" stop-color="#c8c2dc"/></linearGradient>
<linearGradient id="rdark" x1="0" x2="0" y1="0" y2="1"><stop offset="0" stop-color="#000" stop-opacity="0"/><stop offset="0.7" stop-color="#000" stop-opacity="0.15"/><stop offset="1" stop-color="#000" stop-opacity="0.85"/></linearGradient>
<filter id="b1" x="-10%" y="-10%" width="120%" height="120%"><feGaussianBlur stdDeviation="0.7"/></filter>
<filter id="b2" x="-20%" y="-20%" width="140%" height="140%"><feGaussianBlur stdDeviation="1.6"/></filter>
<filter id="b3" x="-30%" y="-30%" width="160%" height="160%"><feGaussianBlur stdDeviation="3"/></filter>
<clipPath id="c1"><rect x="212.7" y="685.4" width="82.7" height="83.3"/></clipPath>
<clipPath id="c2"><rect x="300.3" y="685.6" width="85" height="82.6"/></clipPath>
<clipPath id="c3"><rect x="388.7" y="685.8" width="70.4" height="83.4"/></clipPath>
<clipPath id="c4"><rect x="467.7" y="685.5" width="89.2" height="83.6"/></clipPath>
<clipPath id="c5"><rect x="569.7" y="685.5" width="82.6" height="85"/></clipPath>
<clipPath id="c6"><rect x="666.5" y="685.7" width="79" height="84.8"/></clipPath>
<clipPath id="c7"><rect x="754" y="685.7" width="80" height="85"/></clipPath>
<clipPath id="c8"><rect x="842.4" y="685.5" width="95.6" height="85"/></clipPath>
</defs>
<g id="photos" class="san">
<g filter="url(#b0)">
<text transform="translate(254,651) scale(1.14,1)" x="2.0" y="0" font-size="16.5" font-weight="700" letter-spacing="4" fill="#151515" text-anchor="middle">高压</text>
<text transform="translate(254,672) scale(1.14,1)" x="2.0" y="0" font-size="16.5" font-weight="700" letter-spacing="4" fill="#151515" text-anchor="middle">电线</text>
<text transform="translate(341.5,662.5) scale(1.14,1)" x="2.25" y="0" font-size="16.5" font-weight="700" letter-spacing="4.5" fill="#151515" text-anchor="middle">收音机</text>
<text transform="translate(425,651) scale(1.14,1)" x="2.0" y="0" font-size="16.5" font-weight="700" letter-spacing="4" fill="#151515" text-anchor="middle">电视</text>
<text transform="translate(425,672) scale(1.14,1)" x="2.0" y="0" font-size="16.5" font-weight="700" letter-spacing="4" fill="#151515" text-anchor="middle">天线</text>
<text transform="translate(513.5,662.5) scale(1.14,1)" x="2.25" y="0" font-size="16.5" font-weight="700" letter-spacing="4.5" fill="#151515" text-anchor="middle">微波炉</text>
<text transform="translate(608,662.5) scale(1.14,1)" x="2.0" y="0" font-size="16.5" font-weight="700" letter-spacing="4" fill="#151515" text-anchor="middle">热源</text>
<text transform="translate(702.2,662.5) scale(1.14,1)" x="1.9" y="0" font-size="16.5" font-weight="700" letter-spacing="3.8" fill="#151515" text-anchor="middle">电弧焊</text>
<text transform="translate(794.5,662.5) scale(1.14,1)" x="1.15" y="0" font-size="16.5" font-weight="700" letter-spacing="2.3" fill="#151515" text-anchor="middle">X光透视</text>
<text transform="translate(886.2,662.5) scale(1.14,1)" x="1.9" y="0" font-size="16.5" font-weight="700" letter-spacing="3.8" fill="#151515" text-anchor="middle">放射源</text>
</g>
<g clip-path="url(#c1)">
<rect x="212" y="685" width="85" height="85" fill="url(#sky1)"/>
<rect x="212" y="765.3" width="42" height="5" fill="#6e5e54"/><rect x="254" y="765.3" width="43" height="5" fill="#c87a48"/>
<g filter="url(#b1)"><path d="M227.5 746 V766 M224.5 746.5 H232" stroke="#2a5a9a" stroke-width="1.2"/><path d="M239.4 741 V760 M236.5 741.5 H243" stroke="#2a5a9a" stroke-width="1"/><ellipse cx="236" cy="760" rx="5.3" ry="6" fill="#2c5a28"/><path d="M263.8 723.5 q5 2 7 9 q8 3 9.5 10 q1 6 -5 8 q-2 5 -9 5 h-12 q-6 1 -8 -4 q-6 -1 -5.5 -7 q1 -5 7 -6 q2 -6 7 -7 q3 -7 9 -8z" fill="#469a38"/><path d="M246 748 q4 4 10 2 q2 5 -4 6 q-8 0 -6 -8z M268 740 q6 2 6 8 q-4 4 -8 0z" fill="#2c7a30"/><path d="M257.5 755 l-0.8 12 h4.6 l-0.5 -12z" fill="#b05c30"/><path d="M248.8 719 V767" stroke="#18223a" stroke-width="1.9" fill="none"/><path d="M244.3 720.3 H253.2 M245 723 H252.5" stroke="#1a2a60" stroke-width="1.3" fill="none"/><ellipse cx="250" cy="762" rx="4" ry="5" fill="#24481e"/><path d="M267.6 685 L270.4 769" stroke="#10162e" stroke-width="3"/><path d="M256 690 H278 M256.5 695 H278" stroke="#16246a" stroke-width="1.5"/></g>
</g>
<g clip-path="url(#c2)">
<rect x="300" y="685" width="86" height="85" fill="#40b8ea"/>
<g filter="url(#b1)"><path d="M368.6 739.5 L379.3 695.5" stroke="#1a70b0" stroke-width="1.3"/><rect x="304.9" y="741" width="77.6" height="18.5" rx="9" ry="9" fill="#0e1216"/><path d="M323 731.2 H360.5 V740 L359.5 756 Q359 760.2 355 760.2 H329 Q325 760.2 324.5 756 L323 740z" fill="#f3f5f7"/><rect x="323" y="732" width="37.5" height="5" fill="#141a22"/><rect x="330.5" y="745.7" width="24" height="2.2" fill="#2a3038"/><rect x="334" y="752.2" width="17" height="3" fill="#7a8088"/></g>
</g>
<g clip-path="url(#c3)">
<rect x="388" y="685" width="72" height="85" fill="#18b2f2"/>
<g filter="url(#b1)"><path d="M388 751.5 L405.6 750 L452 770 H388z" fill="#f07a22"/><path d="M391 770 L405.5 762.5 L423 770z" fill="#a02a10"/><path d="M388 751 L405.6 749.6 L452 769.5" stroke="#3a8a48" stroke-width="1.7" fill="none"/><path d="M406.2 751 V770" stroke="#5a2010" stroke-width="1"/><path d="M430 719 V754" stroke="#1e86cc" stroke-width="1"/><path d="M416.3 709.3 L453.8 728" stroke="#1840a0" stroke-width="1.7"/><path d="M392.5 723 L445 692 M401 729.5 L455 695.5 M417 726 L451 706.5" stroke="#1a86d0" stroke-width="1" opacity="0.85"/></g>
</g>
<g clip-path="url(#c4)">
<rect x="467" y="685" width="92" height="85" fill="url(#mwbg)"/>
<g filter="url(#b1)"><path d="M472.5 745.5 L548.5 749 L555 744.5 L548 743 Z" fill="#72827f"/><path d="M473.5 709.3 L480 701 L553 705 L548 711.5 Z" fill="#d0dcec"/><path d="M548 711.5 L553 705 L553.5 742.5 L548 747 Z" fill="#8c9a9a"/><path d="M473.5 709.3 L548 711.5 L548 747 L473.5 744.5 Z" fill="#d5dcd9"/><path d="M480.6 715.5 L528 717 L528 740 L480.6 738.5 Z" fill="#e3e6e2" stroke="#f7f8f7" stroke-width="1.2"/><rect x="533" y="715.5" width="10" height="5.5" fill="#1c2028"/><rect x="533" y="722.3" width="10" height="7.5" fill="#44aed4"/><rect x="533.5" y="731.3" width="9" height="9" fill="#8e9a98"/></g>
</g>
<g clip-path="url(#c5)">
<rect x="569" y="685" width="86" height="86" fill="url(#hbg)"/>
<g filter="url(#b1)"><path d="M569 756 L598 742 L606 756 L612 771 H569z" fill="#d6d0c2"/><path d="M606 754 L617 694 L648 708 Q652 712 650 720 L644 771 L610 771 Z" fill="#e3eded"/><path d="M624.5 707 Q636 712 637 722 L630 738 Q622 730 624.5 707z" fill="#a2c8d0"/><path d="M615.8 692.5 Q621 700 619 722 Q616 744 608 753.5 Q601 742 599.5 728 Q601 706 615.8 692.5z" fill="#a8a898"/><path d="M615.8 692.5 Q620 698 619.5 708 Q612 702 608 708 Q611 698 615.8 692.5z" fill="#80887a"/><path d="M569.5 746 Q574 738 578 730 L583 716 Q585 711 587.5 713 L590 708 Q593 705.5 594 710 L596 712 Q598.5 713 597.5 720 L596 738 Q590 746 580 752 L569.5 759z" fill="#ac5238"/></g>
</g>
<g clip-path="url(#c6)">
<rect x="666" y="685" width="80" height="86" fill="#1a1e20"/>
<g filter="url(#b2)"><path d="M667 686 H703 L699 704 L688 718 L668 726z" fill="#52702a"/><path d="M672 698 L684 692 L690 704 L678 712z" fill="#6c8c34" opacity="0.7"/><path d="M732 704 L746 692 V771 H729 L718 744 L729 722z" fill="#c4d6d0"/><path d="M722 746 L746 736 V771 H729z" fill="#94a69e"/><path d="M702 685 H738 L737 704 Q726 716 709 710 Q702 700 702 685z" fill="#0c0e10"/><path d="M688 724 L708 708 L730 724 L716 746 L700 742z" fill="#2a2e3c"/><path d="M704 720 L716 713 L726 722 L716 730z" fill="#6a727a"/><path d="M670 742 L686 734 L688 760 L672 764z" fill="#262c28"/></g><circle cx="696" cy="748.6" r="12.5" fill="url(#spark)"/><rect x="666.3" y="685.5" width="79.3" height="85" fill="none" stroke="#14181a" stroke-width="1.6"/>
</g>
<g clip-path="url(#c7)">
<rect x="753" y="685" width="82" height="86" fill="#28170f"/>
<g filter="url(#b2)"><path d="M757.5 726 Q756 702 776 693 Q800 684 818 694 Q830 701 833 714 L838 720 V770 L810 764 Q796 762 782.5 754 Q760 746 757.5 726z" fill="url(#skull)"/><path d="M795 692 Q799 720 795 754" stroke="#d6bca6" stroke-width="4" fill="none" opacity="0.7"/><path d="M786 692 Q789 720 786 750" stroke="#fbeee2" stroke-width="3.5" fill="none" opacity="0.7"/><path d="M818 718 H836 V734 H820z" fill="#7a5844" opacity="0.85"/><path d="M814 744 Q824 742 836 748 V760 Q822 760 814 752z" fill="#5a3a2a" opacity="0.8"/><path d="M822 700 Q830 706 834 716" stroke="#6a4a3a" stroke-width="2" fill="none" opacity="0.6"/></g>
</g>
<g clip-path="url(#c8)">
<rect x="842" y="685" width="97" height="86" fill="url(#rbg)"/>
<rect x="842" y="685" width="97" height="14" fill="#1212b6" opacity="0.9"/>
<g filter="url(#b2)"><path d="M843 768 V702 Q850 698 860 702 Q866 712 866 730 L872 760 Q860 770 843 768z" fill="url(#smoke)" opacity="0.95"/><path d="M862 722 L873 716 L874 754 L864 752z" fill="#d6c68e" opacity="0.8"/><path d="M913 700 Q926 716 925 748 L912 748z" fill="#3060f0" opacity="0.75"/><rect x="872" y="706" width="36" height="38" fill="url(#barrel)"/><rect x="868" y="702" width="43" height="9" fill="#0c0a08"/><path d="M873 743 H909 V768 H873z" fill="#140e08"/><path d="M891 743 H896 V756 H891z" fill="#c06018"/><ellipse cx="889.3" cy="698.5" rx="27" ry="5.8" fill="#181206"/></g><g filter="url(#b1)"><path d="M869 696.4 Q889 695.4 908 696.6 M866 700.4 Q889 699.2 913 700.6" stroke="#b89222" stroke-width="1.5" fill="none"/><circle cx="881" cy="718.8" r="2.3" fill="#30200c"/><circle cx="889" cy="718.8" r="2.3" fill="#30200c"/><circle cx="885.3" cy="726" r="2.5" fill="#30200c"/></g><rect x="842" y="764" width="97" height="8" fill="#08080e" filter="url(#b1)"/>
</g>
</g>
</svg>
</body>
</html>
